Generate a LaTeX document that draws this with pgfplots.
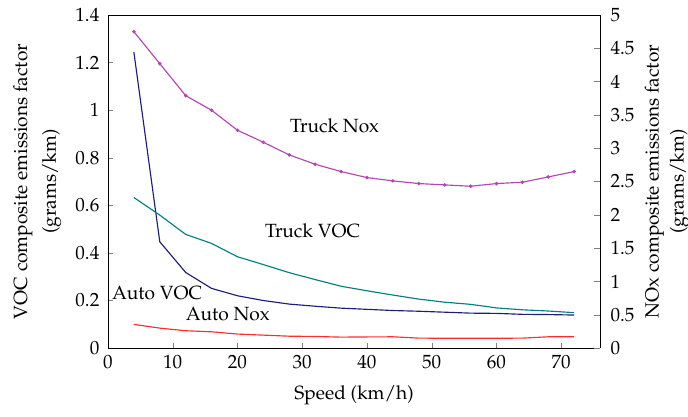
\documentclass[border=0pt]{standalone}
\usepackage[T1]{fontenc}
\usepackage{mathpazo}
\usepackage{pgfplots}
\pgfplotsset{compat=1.18}
\definecolor{tnox}{RGB}{180,70,180}
\definecolor{avoc}{RGB}{30,30,120}
\definecolor{tvoc}{RGB}{0,128,128}
\definecolor{anox}{RGB}{255,45,45}
\begin{document}
\begin{tikzpicture}
\begin{axis}[
  scale only axis, width=257.5pt, height=174.3pt,
  xmin=0, xmax=76, ymin=0, ymax=1.4,
  axis y line*=left, axis x line*=bottom,
  xtick={0,10,...,70}, ytick={0,0.2,...,1.4},
  yticklabels={0,0.2,0.4,0.6,0.8,1,1.2,1.4},
  tick align=inside, major tick length=2.5pt,
  yticklabel style={xshift=-1pt},
  xlabel={Speed (km/h)},
  xlabel style={yshift=-2pt},
  ylabel={\shortstack{VOC composite emissions factor\\[2pt](grams/km)}},
  ylabel style={at={(axis description cs:0,0.5)}, anchor=center, yshift=37pt},
  /pgf/number format/assume math mode=true,
  every axis plot/.append style={line width=0.6pt},
  clip=false,
]
\addplot[avoc, no marks] coordinates {
(4,1.244) (8,0.447) (12,0.318) (16,0.251) (20,0.220) (24,0.200) (28,0.185)
(32,0.176) (36,0.168) (40,0.163) (44,0.158) (48,0.155) (52,0.151) (56,0.147)
(60,0.146) (64,0.142) (68,0.141) (72,0.139)};
\addplot[tvoc, no marks] coordinates {
(4,0.633) (8,0.559) (12,0.478) (16,0.440) (20,0.384) (24,0.351) (28,0.317)
(32,0.288) (36,0.260) (40,0.241) (44,0.223) (48,0.206) (52,0.193) (56,0.184)
(60,0.169) (64,0.161) (68,0.156) (72,0.149)};
\node at (axis cs:35,0.933) {Truck Nox};
\node at (axis cs:31.6,0.492) {Truck VOC};
\node at (axis cs:7.6,0.231) {Auto VOC};
\node at (axis cs:18.5,0.143) {Auto Nox};
\coordinate (sw) at (rel axis cs:0,0);
\coordinate (ne) at (rel axis cs:1,1);
\end{axis}
\begin{axis}[
  scale only axis, width=257.5pt, height=174.3pt,
  xmin=0, xmax=76, ymin=0, ymax=5,
  axis y line*=right, axis x line*=top,
  xtick=\empty, ytick={0,0.5,...,5},
  yticklabels={0,0.5,1,1.5,2,2.5,3,3.5,4,4.5,5},
  tick align=inside, major tick length=3pt,
  yticklabel style={xshift=2pt},
  ylabel={\shortstack{NOx composite emissions factor\\(grams/km)}},
  ylabel style={at={(axis description cs:1,0.5)}, anchor=center, yshift=-35pt},
  /pgf/number format/assume math mode=true,
  every axis plot/.append style={line width=0.6pt},
]
\addplot[tnox, mark=*, mark size=0.6pt] coordinates {
(4,4.75) (8,4.27) (12,3.79) (16,3.57) (20,3.27) (24,3.09) (28,2.90)
(32,2.76) (36,2.65) (40,2.56) (44,2.51) (48,2.47) (52,2.45) (56,2.43)
(60,2.47) (64,2.49) (68,2.57) (72,2.65)};
\addplot[anox, no marks] coordinates {
(4,0.356) (8,0.30) (12,0.261) (16,0.245) (20,0.211) (24,0.195) (28,0.179)
(32,0.175) (36,0.165) (40,0.168) (44,0.170) (48,0.150) (52,0.148) (56,0.148)
(60,0.148) (64,0.150) (68,0.170) (72,0.170)};
\end{axis}
\pgfresetboundingbox
\path[use as bounding box] ([shift={(-56.5pt,-35.6pt)}]sw) rectangle ([shift={(46pt,7.85pt)}]ne);
\end{tikzpicture}
\end{document}
